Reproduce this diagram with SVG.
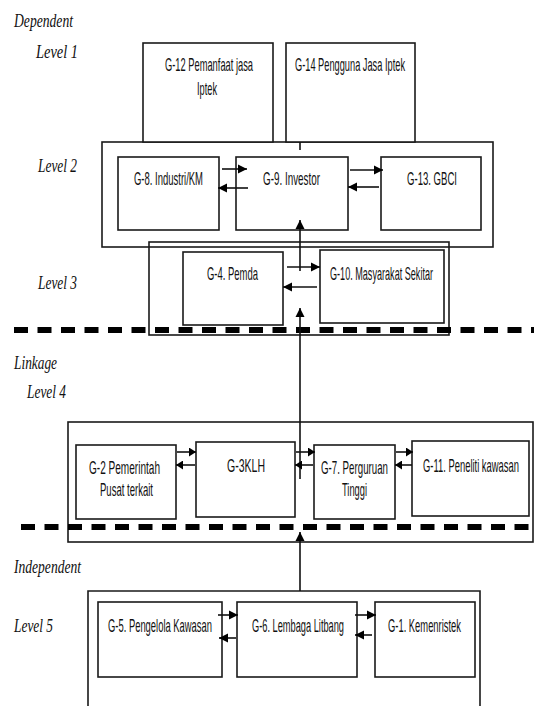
<svg xmlns="http://www.w3.org/2000/svg" width="534" height="706" viewBox="0 0 534 706">
<style>
.bg{fill:#fff}
.box{fill:none;stroke:#1a1a1a;stroke-width:1.6}
.node{fill:#fff;stroke:#1a1a1a;stroke-width:1.6}
.t{font-family:"Liberation Sans",Arial,sans-serif;font-size:17.5px;fill:#111}
.lv{font-family:"Liberation Serif","Times New Roman",serif;font-style:italic;font-size:19.5px;fill:#111}
.c{fill:none;stroke:#111;stroke-width:1.6}
.dash{fill:none;stroke:#000;stroke-width:6;stroke-dasharray:14 9.5}
</style>
<defs>
<marker id="ah" markerUnits="userSpaceOnUse" markerWidth="10" markerHeight="10" refX="9" refY="5" orient="auto">
<path d="M0,0.5 L9,5 L0,9.5 z" fill="#000"/>
</marker>
<marker id="ahs" markerUnits="userSpaceOnUse" markerWidth="8" markerHeight="9" refX="7" refY="4.5" orient="auto">
<path d="M0,0 L7,4.5 L0,9 z" fill="#000"/>
</marker>
</defs>
<rect class="bg" x="0" y="0" width="534" height="706"/>

<g id="labels">
<text class="lv" x="14" y="27" textLength="59" lengthAdjust="spacingAndGlyphs">Dependent</text>
<text class="lv" x="36" y="58" textLength="42" lengthAdjust="spacingAndGlyphs">Level 1</text>
<text class="lv" x="38" y="172" textLength="39" lengthAdjust="spacingAndGlyphs">Level 2</text>
<text class="lv" x="38" y="289" textLength="39" lengthAdjust="spacingAndGlyphs">Level 3</text>
<text class="lv" x="14" y="369" textLength="43" lengthAdjust="spacingAndGlyphs">Linkage</text>
<text class="lv" x="27" y="398" textLength="39" lengthAdjust="spacingAndGlyphs">Level 4</text>
<text class="lv" x="14" y="573" textLength="67" lengthAdjust="spacingAndGlyphs">Independent</text>
<text class="lv" x="14" y="632" textLength="39" lengthAdjust="spacingAndGlyphs">Level 5</text>
</g>

<g id="level-containers">
<rect class="box" x="102" y="142" width="391" height="105"/>
<rect class="box" x="149" y="242" width="300" height="93"/>
<rect class="box" x="68" y="422" width="465" height="120"/>
<path class="box" d="M88,712 V591 H480 V712"/>
</g>

<g id="G-12">
<rect class="node" x="143" y="43" width="130" height="99"/>
<text class="t" transform="translate(165,71) scale(0.55,1)" textLength="160" lengthAdjust="spacingAndGlyphs">G-12 Pemanfaat jasa</text>
<text class="t" transform="translate(197,95) scale(0.55,1)" textLength="36.4" lengthAdjust="spacingAndGlyphs">Iptek</text>
</g>
<g id="G-14">
<rect class="node" x="286" y="43" width="129" height="99"/>
<text class="t" transform="translate(295,71) scale(0.55,1)" textLength="200" lengthAdjust="spacingAndGlyphs">G-14 Pengguna Jasa Iptek</text>
</g>
<g id="G-8">
<rect class="node" x="118" y="157" width="101" height="73"/>
<text class="t" transform="translate(134,185) scale(0.55,1)" textLength="125.5" lengthAdjust="spacingAndGlyphs">G-8. Industri/KM</text>
</g>
<g id="G-9">
<rect class="node" x="236" y="157" width="112" height="73"/>
<text class="t" transform="translate(263,185) scale(0.55,1)" textLength="103.6" lengthAdjust="spacingAndGlyphs">G-9. Investor</text>
</g>
<g id="G-13">
<rect class="node" x="381" y="157" width="100" height="73"/>
<text class="t" transform="translate(407,185) scale(0.55,1)" textLength="90.9" lengthAdjust="spacingAndGlyphs">G-13. GBCI</text>
</g>
<g id="G-4">
<rect class="node" x="183" y="252" width="100" height="73"/>
<text class="t" transform="translate(207,280) scale(0.55,1)" textLength="92.7" lengthAdjust="spacingAndGlyphs">G-4. Pemda</text>
</g>
<g id="G-10">
<rect class="node" x="320" y="250" width="124" height="73"/>
<text class="t" transform="translate(330,280) scale(0.55,1)" textLength="187.3" lengthAdjust="spacingAndGlyphs">G-10. Masyarakat Sekitar</text>
</g>
<g id="G-2">
<rect class="node" x="76" y="445" width="100" height="74"/>
<text class="t" transform="translate(89,474) scale(0.55,1)" textLength="129.1" lengthAdjust="spacingAndGlyphs">G-2 Pemerintah</text>
<text class="t" transform="translate(100,496) scale(0.55,1)" textLength="96.4" lengthAdjust="spacingAndGlyphs">Pusat terkait</text>
</g>
<g id="G-3">
<rect class="node" x="196" y="442" width="99" height="75"/>
<text class="t" transform="translate(227,472) scale(0.55,1)" textLength="69.1" lengthAdjust="spacingAndGlyphs">G-3KLH</text>
</g>
<g id="G-7">
<rect class="node" x="314" y="445" width="81" height="74"/>
<text class="t" transform="translate(321,474) scale(0.55,1)" textLength="121.8" lengthAdjust="spacingAndGlyphs">G-7. Perguruan</text>
<text class="t" transform="translate(342,496) scale(0.55,1)" textLength="45.5" lengthAdjust="spacingAndGlyphs">Tinggi</text>
</g>
<g id="G-11">
<rect class="node" x="412" y="441" width="117" height="75"/>
<text class="t" transform="translate(423,472) scale(0.55,1)" textLength="174.5" lengthAdjust="spacingAndGlyphs">G-11. Peneliti kawasan</text>
</g>
<g id="G-5">
<rect class="node" x="98" y="602" width="124" height="75"/>
<text class="t" transform="translate(108,632) scale(0.55,1)" textLength="189.1" lengthAdjust="spacingAndGlyphs">G-5. Pengelola Kawasan</text>
</g>
<g id="G-6">
<rect class="node" x="237" y="602" width="120" height="75"/>
<text class="t" transform="translate(252,632) scale(0.55,1)" textLength="167.3" lengthAdjust="spacingAndGlyphs">G-6. Lembaga Litbang</text>
</g>
<g id="G-1">
<rect class="node" x="375" y="602" width="100" height="75"/>
<text class="t" transform="translate(388,632) scale(0.55,1)" textLength="132.7" lengthAdjust="spacingAndGlyphs">G-1. Kemenristek</text>
</g>

<g id="dividers">
<line class="dash" x1="14" y1="330" x2="534" y2="330"/>
<line class="dash" x1="21" y1="527" x2="534" y2="527"/>
</g>

<g id="connectors">
<line class="c" x1="300" y1="142" x2="300" y2="150"/>
<line class="c" x1="300" y1="271" x2="300" y2="220" marker-end="url(#ah)"/>
<line class="c" x1="300" y1="479" x2="300" y2="308" marker-end="url(#ah)"/>
<line class="c" x1="300" y1="591" x2="300" y2="532" marker-end="url(#ah)"/>

<line class="c" x1="222" y1="169" x2="247" y2="169" marker-end="url(#ah)"/>
<line class="c" x1="248" y1="188" x2="218" y2="188" marker-end="url(#ah)"/>
<line class="c" x1="350" y1="170" x2="383" y2="170" marker-end="url(#ah)"/>
<line class="c" x1="379" y1="187" x2="348" y2="187" marker-end="url(#ah)"/>

<line class="c" x1="287" y1="267" x2="320" y2="267" marker-end="url(#ah)"/>
<line class="c" x1="317" y1="287" x2="283" y2="287" marker-end="url(#ah)"/>

<line class="c" x1="177" y1="452" x2="196" y2="452" marker-end="url(#ahs)"/>
<line class="c" x1="195" y1="465" x2="176" y2="465" marker-end="url(#ahs)"/>
<line class="c" x1="296" y1="452" x2="315" y2="452" marker-end="url(#ahs)"/>
<line class="c" x1="313" y1="465" x2="295" y2="465" marker-end="url(#ahs)"/>
<line class="c" x1="396" y1="452" x2="413" y2="452" marker-end="url(#ahs)"/>
<line class="c" x1="412" y1="465" x2="395" y2="465" marker-end="url(#ahs)"/>

<line class="c" x1="218" y1="615" x2="238" y2="615" marker-end="url(#ah)"/>
<line class="c" x1="236" y1="638" x2="219" y2="638" marker-end="url(#ah)"/>
<line class="c" x1="355" y1="615" x2="376" y2="615" marker-end="url(#ah)"/>
<line class="c" x1="372" y1="635" x2="355" y2="635" marker-end="url(#ah)"/>
</g>
</svg>
